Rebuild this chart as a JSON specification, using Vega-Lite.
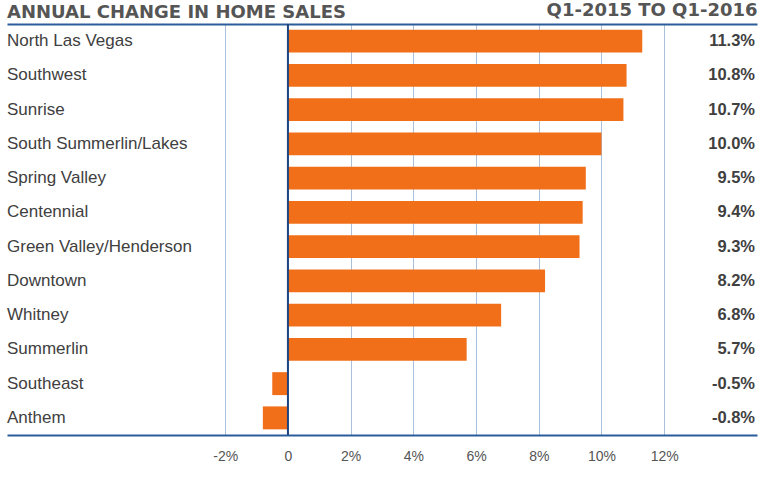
{
  "$schema": "https://vega.github.io/schema/vega-lite/v6.json",
  "width": 750,
  "height": 411,
  "autosize": {"type": "none"},
  "padding": {"left": 7, "top": 24, "right": 3, "bottom": 49},
  "background": "white",
  "title": {
    "text": "ANNUAL CHANGE IN HOME SALES",
    "anchor": "start",
    "frame": "group",
    "font": "DejaVu Sans",
    "fontSize": 18,
    "fontWeight": "bold",
    "color": "#555555",
    "offset": 0,
    "dy": 21
  },
  "config": {"view": {"stroke": null}},
  "data": {
    "values": [
      {"area": "North Las Vegas", "change": 11.3},
      {"area": "Southwest", "change": 10.8},
      {"area": "Sunrise", "change": 10.7},
      {"area": "South Summerlin/Lakes", "change": 10.0},
      {"area": "Spring Valley", "change": 9.5},
      {"area": "Centennial", "change": 9.4},
      {"area": "Green Valley/Henderson", "change": 9.3},
      {"area": "Downtown", "change": 8.2},
      {"area": "Whitney", "change": 6.8},
      {"area": "Summerlin", "change": 5.7},
      {"area": "Southeast", "change": -0.5},
      {"area": "Anthem", "change": -0.8}
    ]
  },
  "resolve": {"axis": {"x": "independent"}},
  "layer": [
    {
      "mark": {"type": "bar", "color": "#f26f1a"},
      "encoding": {
        "y": {"field": "area", "type": "nominal", "sort": null, "scale": {"paddingInner": 0.33, "paddingOuter": 0.165}, "axis": null},
        "x": {
          "field": "change",
          "type": "quantitative",
          "scale": {"domain": [-8.96, 14.96], "nice": false, "zero": false},
          "axis": {
            "orient": "bottom",
            "values": [-2, 0, 2, 4, 6, 8, 10, 12],
            "labelExpr": "datum.value == 0 ? '0' : datum.value + '%'",
            "grid": true,
            "gridColor": "#a9c1dc",
            "gridWidth": 1,
            "domain": true,
            "domainColor": "#2b5d9b",
            "domainWidth": 2,
            "ticks": false,
            "labelPadding": 14,
            "labelFont": "Liberation Sans",
            "labelFontSize": 14,
            "labelColor": "#555555",
            "title": null
          }
        }
      }
    },
    {
      "data": {"values": [{"v": 0}]},
      "mark": {"type": "rule", "color": "#1d4480", "strokeWidth": 2},
      "encoding": {
        "x": {
          "field": "v",
          "type": "quantitative",
          "axis": {
            "orient": "top",
            "grid": false,
            "labels": false,
            "ticks": false,
            "domain": true,
            "domainColor": "#2b5d9b",
            "domainWidth": 2,
            "title": "Q1-2015 TO Q1-2016",
            "titleAnchor": "end",
            "titleFont": "DejaVu Sans",
            "titleFontSize": 18,
            "titleFontWeight": "bold",
            "titleColor": "#555555",
            "titlePadding": 5
          }
        }
      }
    },
    {
      "mark": {"type": "text", "align": "left", "baseline": "middle", "font": "Liberation Sans", "fontSize": 17, "color": "#404040"},
      "encoding": {
        "y": {"field": "area", "type": "nominal", "sort": null, "axis": null},
        "x": {"datum": -8.96, "type": "quantitative", "axis": null},
        "text": {"field": "area"}
      }
    },
    {
      "transform": [{"calculate": "(datum.change < 0 ? '-' : '') + format(abs(datum.change), '.1f') + '%'", "as": "label"}],
      "mark": {"type": "text", "align": "right", "baseline": "middle", "dx": -2, "font": "Liberation Sans", "fontSize": 16.5, "fontWeight": "bold", "color": "#404040"},
      "encoding": {
        "y": {"field": "area", "type": "nominal", "sort": null, "axis": null},
        "x": {"datum": 14.96, "type": "quantitative", "axis": null},
        "text": {"field": "label"}
      }
    }
  ]
}
